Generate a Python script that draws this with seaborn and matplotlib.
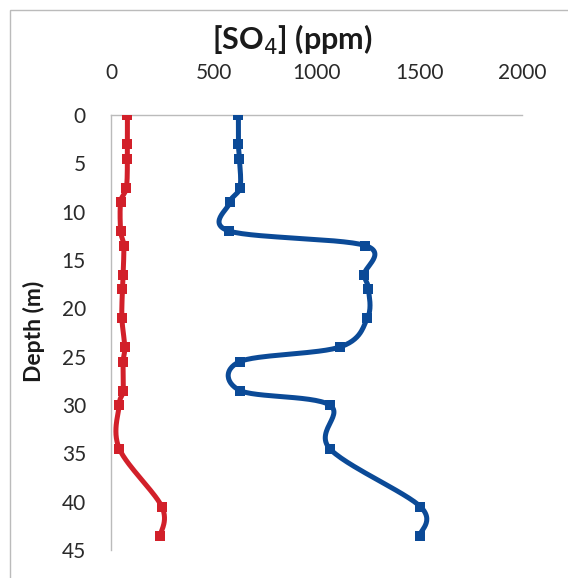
import numpy as np
import pandas as pd
import matplotlib
matplotlib.use("Agg")
import matplotlib.pyplot as plt
import seaborn as sns
from matplotlib.patches import Rectangle

# ---- data ----
depth = [0, 3, 4.5, 7.5, 9, 12, 13.5, 16.5, 18, 21, 24, 25.5, 28.5, 30, 34.5, 40.5, 43.5]
red_so4 = [80, 80, 80, 75, 47, 47, 62, 59, 56, 53, 67, 59, 59, 40, 40, 247, 240]
blue_so4 = [620, 620, 625, 628, 580, 575, 1237, 1233, 1253, 1248, 1114, 628, 628, 1064, 1064, 1505, 1502]
x_ticks = [0, 500, 1000, 1500, 2000]
y_ticks = [0, 5, 10, 15, 20, 25, 30, 35, 40, 45]

RED = "#D2202A"
BLUE = "#0B4A97"


def smooth(xs, ys, n=30):
    """Excel-like smoothed line (Catmull-Rom Bezier)."""
    P = np.column_stack([xs, ys]).astype(float)
    P = np.vstack([P[0], P, P[-1]])
    out = []
    for i in range(1, len(P) - 2):
        p0, p1, p2, p3 = P[i - 1], P[i], P[i + 1], P[i + 2]
        c1 = p1 + (p2 - p0) / 6.0
        c2 = p2 - (p3 - p1) / 6.0
        t = np.linspace(0, 1, n)[:, None]
        seg = ((1 - t) ** 3) * p1 + 3 * ((1 - t) ** 2) * t * c1 + 3 * (1 - t) * t ** 2 * c2 + t ** 3 * p2
        out.append(seg if i == 1 else seg[1:])
    s = np.vstack(out)
    return s[:, 0], s[:, 1]


sns.set_theme(style="white")
plt.rcParams["font.family"] = ["Lato", "DejaVu Sans"]

fig = plt.figure(figsize=(5.68, 5.78), dpi=100)
ax = fig.add_axes([0.1954, 0.0484, 0.919 - 0.1954, 0.801 - 0.0484])

for vals, col in [(red_so4, RED), (blue_so4, BLUE)]:
    sx, sy = smooth(vals, depth)
    df_line = pd.DataFrame({"x": sx, "y": sy})
    sns.lineplot(data=df_line, x="x", y="y", sort=False, estimator=None,
                 color=col, linewidth=3.6, ax=ax)
    df_pts = pd.DataFrame({"x": vals, "y": depth})
    sns.scatterplot(data=df_pts, x="x", y="y", marker="s", s=42, color=col,
                    edgecolor=col, linewidth=0, ax=ax, zorder=5)

ax.set_xlim(0, 2000)
ax.set_ylim(45, 0)
ax.set_xticks(x_ticks)
ax.set_yticks(y_ticks)
ax.xaxis.tick_top()
ax.xaxis.set_label_position("top")
ax.tick_params(axis="both", length=0, labelsize=15, colors="#2a2a2a")
ax.tick_params(axis="x", pad=23)
ax.tick_params(axis="y", pad=18)

ax.set_xlabel("")
ax.set_ylabel("")

for side in ["right", "bottom"]:
    ax.spines[side].set_visible(False)
for side in ["left", "top"]:
    ax.spines[side].set_color("#BBBBBB")
    ax.spines[side].set_linewidth(1.0)

fig.text(292 / 568, 1 - 40 / 578, "[SO$_4$] (ppm)", ha="center", va="center",
         fontsize=22, fontweight="bold", color="#1a1a1a")
fig.text(34 / 568, 1 - 331 / 578, "Depth (m)", ha="center", va="center",
         rotation=90, fontsize=16.5, fontweight="bold", color="#1a1a1a")

fig.patches.append(Rectangle((10 / 568, -0.01), 1.0, 1 - 10 / 578 + 0.01,
                             transform=fig.transFigure, fill=False,
                             edgecolor="#BBBBBB", linewidth=1.0))

fig.savefig("out.png", dpi=100)
